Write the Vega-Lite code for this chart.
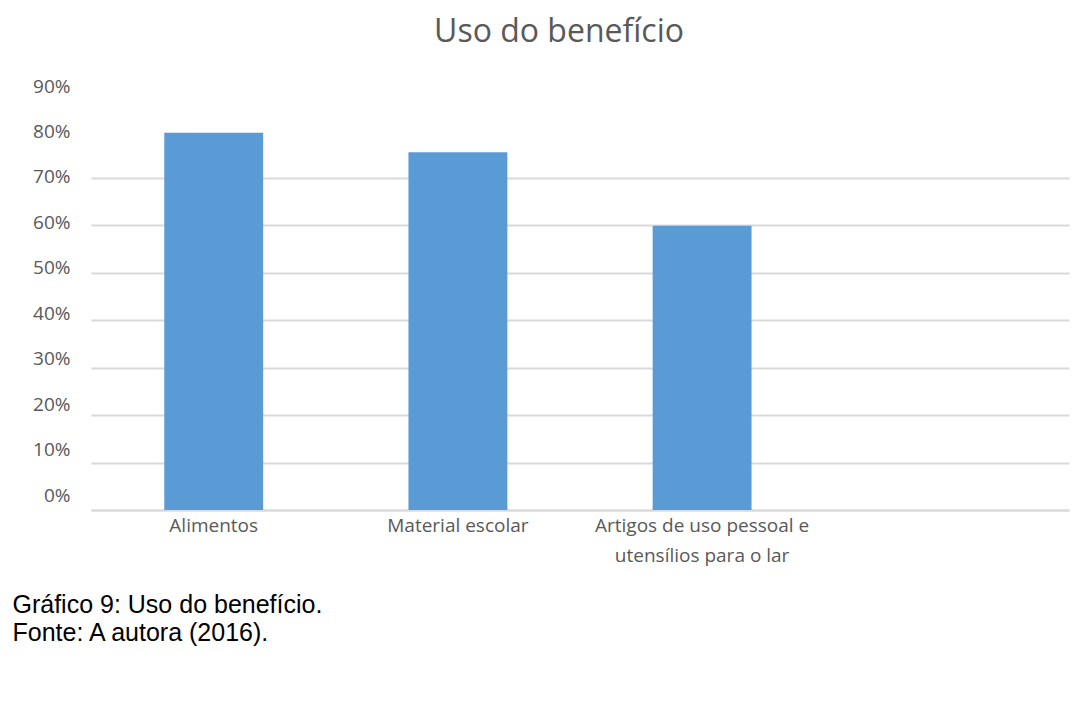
{
  "$schema": "https://vega.github.io/schema/vega-lite/v6.json",
  "width": 978,
  "height": 427,
  "autosize": {"type": "none"},
  "padding": {"left": 91, "top": 83, "right": 18, "bottom": 199},
  "background": "white",
  "title": {
    "text": "Uso do benefício",
    "font": "Open Sans",
    "fontSize": 32,
    "fontWeight": "normal",
    "color": "#595959",
    "anchor": "middle",
    "dx": -21,
    "offset": 28
  },
  "data": {
    "values": [
      {"categoria": "Alimentos", "valor": 0.795},
      {"categoria": "Material escolar", "valor": 0.754},
      {"categoria": "Artigos de uso pessoal e|utensílios para o lar", "valor": 0.599}
    ]
  },
  "mark": {"type": "bar", "color": "#5b9bd5"},
  "encoding": {
    "x": {
      "field": "categoria",
      "type": "nominal",
      "sort": null,
      "scale": {
        "domain": ["Alimentos", "Material escolar", "Artigos de uso pessoal e|utensílios para o lar", "_vazio"],
        "paddingInner": 0.595,
        "paddingOuter": 0.3
      },
      "axis": {
        "labelAngle": 0,
        "labelExpr": "datum.label == '_vazio' ? '' : split(datum.label, '|')",
        "labelFont": "Open Sans",
        "labelFontSize": 19,
        "labelColor": "#595959",
        "labelLineHeight": 30,
        "labelPadding": 6,
        "labelBaseline": "top",
        "labelLimit": 0,
        "ticks": false,
        "domainColor": "#d9d9d9",
        "domainWidth": 2,
        "title": ["Gráfico 9: Uso do benefício.", "Fonte: A autora (2016)."],
        "titleFont": "Liberation Sans",
        "titleFontSize": 25,
        "titleFontWeight": "normal",
        "titleColor": "#000000",
        "titleAnchor": "start",
        "titleAlign": "left",
        "titleBaseline": "alphabetic",
        "titleLineHeight": 28,
        "titleX": -79,
        "titleY": 102
      }
    },
    "y": {
      "field": "valor",
      "type": "quantitative",
      "scale": {"domain": [0, 0.9], "nice": false},
      "axis": {
        "values": [0, 0.1, 0.2, 0.3, 0.4, 0.5, 0.6, 0.7, 0.8, 0.9],
        "format": ".0%",
        "labelFont": "Open Sans",
        "labelFontSize": 19,
        "labelColor": "#595959",
        "labelPadding": 21,
        "labelOffset": {"expr": "(datum.value - 0.75) * 20"},
        "ticks": false,
        "domain": false,
        "title": null,
        "gridColor": {"condition": {"test": "datum.value > 0.75", "value": "transparent"}, "value": "#d9d9d9"},
        "gridWidth": 2
      }
    }
  },
  "config": {
    "view": {"stroke": null}
  }
}
